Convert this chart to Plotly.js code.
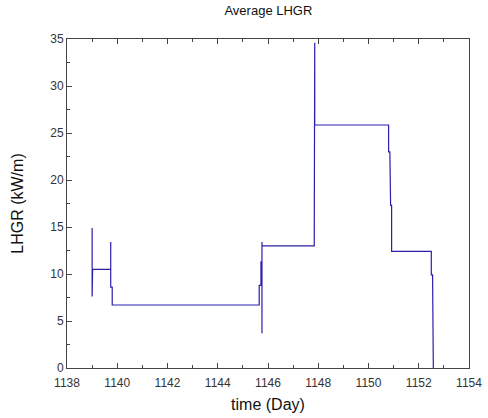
<!DOCTYPE html>
<html>
<head>
<meta charset="utf-8">
<script src="https://cdn.plot.ly/plotly-3.0.1.min.js"></script>
<style>html,body{margin:0;padding:0;background:#fff;}#chart{width:488px;height:418px;}</style>
</head>
<body>
<div id="chart"></div>
<script>
// time (Day) of each path vertex
var timeDay = [1139.0, 1139.0, 1139.02, 1139.74, 1139.74, 1139.74, 1139.8, 1139.8,
  1145.65, 1145.65, 1145.72, 1145.72, 1145.76, 1145.76, 1145.76, 1145.76,
  1147.84, 1147.84, 1147.86, 1147.86, 1147.86,
  1150.8, 1150.8, 1150.85, 1150.85, 1150.88, 1150.88, 1150.92, 1150.92,
  1152.5, 1152.5, 1152.55, 1152.55, 1152.58, 1152.58];
// LHGR (kW/m)
var lhgr = [14.9, 7.6, 10.5, 10.5, 13.4, 8.6, 8.6, 6.7,
  6.7, 8.8, 8.8, 11.3, 11.3, 13.4, 3.7, 13.0,
  13.0, 25.85, 31.7, 34.6, 25.85,
  25.85, 23.0, 23.0, 20.2, 20.2, 17.3, 17.3, 12.4,
  12.4, 9.9, 9.9, 6.4, 6.4, 0];
var xTicks = [1138, 1140, 1142, 1144, 1146, 1148, 1150, 1152, 1154];
var yTicks = [0, 5, 10, 15, 20, 25, 30, 35];

var font = "Liberation Sans, Arial, sans-serif";
var trace = {
  x: timeDay, y: lhgr, type: 'scatter', mode: 'lines',
  line: {color: '#2a1fac', width: 1.2, shape: 'linear'},
  hoverinfo: 'skip'
};
var layout = {
  width: 488, height: 418,
  margin: {l: 67, r: 19, t: 39, b: 50},
  paper_bgcolor: '#fff', plot_bgcolor: '#fff',
  showlegend: false,
  title: {text: 'Average LHGR', font: {family: font, size: 13, color: '#111'}, x: 0.55, xanchor: 'center', y: 0.974, yanchor: 'middle'},
  xaxis: {
    range: [1138, 1154], tickvals: xTicks, ticktext: xTicks.map(String),
    showgrid: false, zeroline: false,
    showline: true, linecolor: '#444', linewidth: 1, mirror: 'ticks',
    ticks: 'inside', ticklen: 5, tickcolor: '#444', tickwidth: 1,
    ticklabelstandoff: 4,
    minor: {ticks: 'inside', dtick: 1, tick0: 1138, ticklen: 3, tickcolor: '#444', showgrid: false},
    tickfont: {family: font, size: 12, color: '#333'},
    title: {text: 'time (Day)', font: {family: font, size: 16, color: '#111'}, standoff: 9}
  },
  yaxis: {
    range: [0, 35], tickvals: yTicks, ticktext: yTicks.map(String),
    showgrid: false, zeroline: false,
    showline: true, linecolor: '#444', linewidth: 1, mirror: true,
    ticks: 'inside', ticklen: 5, tickcolor: '#444', tickwidth: 1,
    minor: {ticks: 'inside', dtick: 2.5, tick0: 0, ticklen: 3, tickcolor: '#444', showgrid: false},
    tickfont: {family: font, size: 12, color: '#333'},
    title: {text: 'LHGR (kW/m)', font: {family: font, size: 16, color: '#111'}, standoff: 22}
  }
};
Plotly.newPlot('chart', [trace], layout, {displayModeBar: false, staticPlot: true});
</script>
</body>
</html>
